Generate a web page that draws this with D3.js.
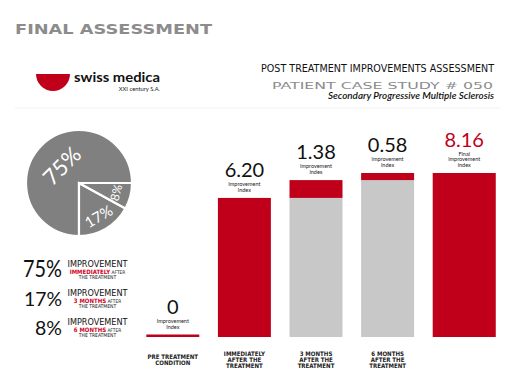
<!DOCTYPE html>
<html lang="en">
  <head>
    <meta charset="utf-8" />
    <title>Final assessment</title>
    <script src="https://d3js.org/d3.v7.min.js"></script>
    <style>
      body { margin: 0; background: #fff; }
      svg { display: block; }
      .num { font-family: Lato, "Open Sans", sans-serif; }
      .cond { font-family: "DejaVu Sans Condensed", "DejaVu Sans", sans-serif; font-stretch: condensed; }
    </style>
  </head>
  <body>
    <svg width="508" height="377"></svg>
    <script type="text/javascript">
      // chart values
      const stageLabels = [
        ["PRE TREATMENT", "CONDITION"],
        ["IMMEDIATELY", "AFTER THE", "TREATMENT"],
        ["3 MONTHS", "AFTER THE", "TREATMENT"],
        ["6 MONTHS", "AFTER THE", "TREATMENT"],
        [],
      ];
      const stageIncrements = [0, 6.2, 1.38, 0.58];
      const finalIndex = 8.16;
      const indexCaptions = [
        ["Improvement", "Index"],
        ["Improvement", "index"],
        ["Improvement", "index"],
        ["improvement", "index"],
        ["Final", "improvement", "index"],
      ];
      const pieShares = [75, 17, 8];
      const pieTiming = ["IMMEDIATELY", "3 MONTHS", "6 MONTHS"];

      const RED = "#c0001a",
        GREY = "#c8c8c8",
        PIE = "#808080";

      const svg = d3.select("svg");

      // header
      svg.append("text")
        .attr("x", 15).attr("y", 34)
        .attr("font-family", "DejaVu Sans").attr("font-weight", "bold")
        .attr("font-size", 14.5).attr("fill", "#8c8c8c")
        .attr("textLength", 197).attr("lengthAdjust", "spacingAndGlyphs")
        .text("FINAL ASSESSMENT");

      const logoArc = d3.arc().innerRadius(0).outerRadius(17)
        .startAngle(Math.PI / 2).endAngle(Math.PI * 1.5);
      svg.append("path").attr("transform", "translate(53,74)")
        .attr("d", logoArc()).attr("fill", RED);
      svg.append("text")
        .attr("x", 74).attr("y", 82)
        .attr("font-family", "Lato, 'Open Sans', sans-serif").attr("font-weight", "bold")
        .attr("font-size", 13).attr("fill", "#111")
        .attr("textLength", 86).attr("lengthAdjust", "spacingAndGlyphs")
        .text("swiss medica");
      svg.append("text")
        .attr("x", 160).attr("y", 91).attr("text-anchor", "end")
        .attr("font-family", "Lato, sans-serif").attr("font-size", 5.8).attr("fill", "#222")
        .text("XXI century S.A.");
      svg.append("line")
        .attr("x1", 15).attr("x2", 500).attr("y1", 108).attr("y2", 108)
        .attr("stroke", "#f2f2f2");

      svg.append("text")
        .attr("x", 261).attr("y", 72)
        .attr("font-family", "'DejaVu Sans Condensed', 'DejaVu Sans', sans-serif")
        .attr("font-stretch", "condensed")
        .attr("font-size", 10.5).attr("fill", "#111")
        .attr("textLength", 233).attr("lengthAdjust", "spacingAndGlyphs")
        .text("POST TREATMENT IMPROVEMENTS  ASSESSMENT");
      svg.append("text")
        .attr("x", 272).attr("y", 88.5)
        .attr("font-family", "DejaVu Sans").attr("font-size", 8.5).attr("fill", "#8c8c8c")
        .attr("textLength", 221).attr("lengthAdjust", "spacingAndGlyphs")
        .text("PATIENT CASE STUDY  # 050");
      svg.append("text")
        .attr("x", 328).attr("y", 98.5)
        .attr("font-family", "Lato, sans-serif").attr("font-style", "italic")
        .attr("font-weight", 600).attr("font-size", 9.5).attr("fill", "#111")
        .attr("textLength", 166).attr("lengthAdjust", "spacingAndGlyphs")
        .text("Secondary Progressive Multiple Sclerosis");

      // bars
      let cum = 0;
      const bars = stageIncrements.map((v, i) => {
        const base = cum;
        cum += v;
        return { value: v, base: base, top: cum, label: stageLabels[i], caption: indexCaptions[i], final: false };
      });
      bars.push({ value: finalIndex, base: 0, top: finalIndex, label: stageLabels[4], caption: indexCaptions[4], final: true });

      const x = d3.scaleBand().domain(d3.range(bars.length))
        .range([137, 495]).paddingInner(0.26).paddingOuter(0.13);
      const y = d3.scalePow().exponent(0.6).domain([0, finalIndex]).range([337, 173]);
      const bw = (d, i) => (d.final ? x.bandwidth() * 1.19 : x.bandwidth());
      const cx = (d, i) => x(i) + bw(d, i) / 2;

      const gb = svg.append("g");
      gb.selectAll(".grey").data(bars).enter().append("rect")
        .attr("x", (d, i) => x(i)).attr("width", bw)
        .attr("y", (d) => y(d.base)).attr("height", (d) => y(0) - y(d.base))
        .attr("fill", GREY);
      gb.selectAll(".red").data(bars).enter().append("rect")
        .attr("x", (d, i) => x(i)).attr("width", bw)
        .attr("y", (d) => Math.min(y(d.top), y(d.base) - 2.5))
        .attr("height", (d) => Math.max(y(d.base) - y(d.top), 2.5))
        .attr("fill", RED);

      const fmt = (v) => (v === 0 ? "0" : d3.format(".2f")(v));
      const barTop = (d) => Math.min(y(d.top), y(d.base) - 2.5);

      bars.forEach((d, i) => {
        const t = barTop(d);
        const n = d.caption.length;
        const cap = svg.append("text")
          .attr("text-anchor", "middle").attr("class", "num")
          .attr("font-size", 5.5).attr("fill", "#222");
        d.caption.forEach((c, k) => {
          cap.append("tspan").attr("x", cx(d, i))
            .attr("y", t - 6 - (n - 1 - k) * 5.6).text(c);
        });
        svg.append("text")
          .attr("class", "num").attr("text-anchor", "middle")
          .attr("x", cx(d, i)).attr("y", t - 6 - (n - 1) * 5.6 - 9)
          .attr("font-size", 20).attr("fill", d.final ? RED : "#111")
          .text(fmt(d.value));

        const lab = svg.append("text")
          .attr("class", "cond").attr("text-anchor", "middle")
          .attr("font-weight", "bold").attr("font-size", 6.1).attr("fill", "#222");
        d.label.forEach((l, k) => {
          lab.append("tspan").attr("x", cx(d, i))
            .attr("y", 359.5 + (k - (d.label.length - 1) / 2) * 6.2 + 2.5)
            .text(l);
        });
      });

      // pie
      const R = 53;
      const pie = d3.pie().sort((a, b) => a - b)
        .startAngle(Math.PI / 2).endAngle(Math.PI * 2.5);
      const arcs = pie(pieShares);
      const arc = d3.arc().innerRadius(0).outerRadius(R);
      const gp = svg.append("g").attr("transform", "translate(79,183)");
      gp.selectAll("path").data(arcs).enter().append("path")
        .attr("d", arc).attr("fill", PIE)
        .attr("stroke", "#fff").attr("stroke-width", 2.2);
      gp.selectAll("text").data(arcs).enter().append("text")
        .attr("class", "num").attr("fill", "#fff")
        .attr("text-anchor", "middle").attr("dominant-baseline", "central")
        .attr("font-size", (d) => (d.data > 50 ? 22 : d.data > 10 ? 15 : 12))
        .attr("transform", (d) => {
          const k = d.data > 50 ? R * 0.47 : R * 0.72;
          const c = d3.arc().innerRadius(k).outerRadius(k).centroid(d);
          let deg = ((d.startAngle + d.endAngle) / 2) * 180 / Math.PI - 180;
          while (deg > 90) deg -= 180;
          while (deg < -90) deg += 180;
          return "translate(" + c[0] + "," + c[1] + ") rotate(" + deg + ")";
        })
        .text((d) => d.data + "%");

      // pie legend
      const row = d3.scalePoint().domain(pieShares).range([277, 335]);
      pieShares.forEach((s, i) => {
        const ry = row(s);
        svg.append("text")
          .attr("class", "num").attr("text-anchor", "end")
          .attr("x", 62).attr("y", ry)
          .attr("font-size", i === 0 ? 23 : 20).attr("fill", "#111")
          .attr("textLength", i === 0 ? 39 : s >= 10 ? 38 : 27)
          .attr("lengthAdjust", "spacingAndGlyphs")
          .text(s + "%");
        svg.append("text")
          .attr("class", "cond").attr("text-anchor", "middle")
          .attr("x", 97.5).attr("y", ry - 10)
          .attr("font-size", 8).attr("fill", "#111")
          .attr("textLength", 60).attr("lengthAdjust", "spacingAndGlyphs")
          .text("IMPROVEMENT");
        const l2 = svg.append("text")
          .attr("class", "cond").attr("text-anchor", "middle")
          .attr("x", 97.5).attr("y", ry - 3.5);
        l2.append("tspan").attr("font-weight", "bold").attr("font-size", 6)
          .attr("fill", "#d0001e").text(pieTiming[i]);
        l2.append("tspan").attr("font-size", 4.8).attr("fill", "#111").text(" AFTER");
        svg.append("text")
          .attr("class", "cond").attr("text-anchor", "middle")
          .attr("x", 97.5).attr("y", ry + 2)
          .attr("font-size", 5).attr("fill", "#111")
          .text("THE TREATMENT");
      });
    </script>
  </body>
</html>
